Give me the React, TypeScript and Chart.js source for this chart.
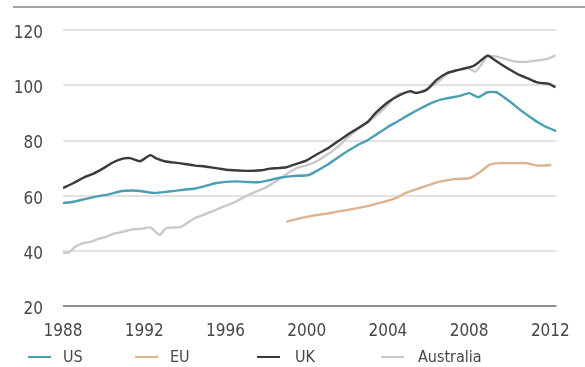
import React, { useEffect, useRef } from "react";
import { Chart, registerables } from "chart.js";

Chart.register(...registerables);

const FONT = '"Liberation Sans Narrow", "DejaVu Sans Condensed", "Arial Narrow", sans-serif';
const TEXT_COLOR = "#474747";

// Axis ticks
const yearTicks = [1988, 1992, 1996, 2000, 2004, 2008, 2012];
const valueTicks = [20, 40, 60, 80, 100, 120];

// Series: sample times (decimal years) and index values
const usYears = [
  1988.0, 1988.5, 1989.0, 1989.5, 1990.2, 1990.9, 1991.4, 1991.8, 1992.5, 1993.2,
  1993.8, 1994.5, 1995.0, 1995.5, 1996.0, 1996.5, 1997.0, 1997.7, 1998.2, 1998.6,
  1999.3, 2000.1, 2000.5, 2001.0, 2001.7, 2002.5, 2003.0, 2003.5, 2004.0, 2004.5,
  2005.0, 2005.6, 2006.25, 2006.7, 2007.2, 2007.6, 2008.0, 2008.45, 2008.9, 2009.35,
  2009.7, 2010.1, 2010.5, 2011.0, 2011.4, 2011.8, 2012.3,
];
const usValues = [
  57.3, 57.8, 58.6, 59.5, 60.4, 61.7, 61.9, 61.7, 61.0, 61.5,
  62.0, 62.6, 63.5, 64.5, 65.0, 65.2, 65.0, 64.9, 65.7, 66.4,
  67.1, 67.5, 69.0, 71.1, 74.7, 78.3, 80.1, 82.5, 84.9, 87.0,
  89.2, 91.6, 93.9, 95.0, 95.7, 96.3, 97.2, 95.7, 97.5, 97.5,
  95.8, 93.6, 91.2, 88.5, 86.5, 84.9, 83.4,
];

const euYears = [
  1999.0, 1999.5, 2000.0, 2000.5, 2001.0, 2001.5, 2002.0, 2002.5, 2003.0, 2003.5,
  2004.1, 2004.5, 2004.85, 2005.5, 2006.0, 2006.5, 2007.25, 2008.05, 2008.55, 2009.0,
  2009.5, 2010.0, 2010.8, 2011.4, 2012.05,
];
const euValues = [
  50.5, 51.5, 52.3, 53.0, 53.5, 54.2, 54.8, 55.5, 56.2, 57.2,
  58.4, 59.5, 60.9, 62.6, 63.8, 65.0, 66.0, 66.4, 68.6, 71.2,
  71.8, 71.8, 71.8, 70.9, 71.1,
];

const ukYears = [
  1988.0, 1988.5, 1989.0, 1989.5, 1990.0, 1990.5, 1991.0, 1991.3, 1991.8, 1992.3,
  1992.6, 1993.0, 1993.7, 1994.5, 1995.0, 1995.7, 1996.2, 1997.0, 1997.75, 1998.2,
  1998.6, 1999.0, 1999.5, 2000.0, 2000.6, 2001.0, 2001.4, 2002.2, 2003.0, 2003.4,
  2004.0, 2004.6, 2005.1, 2005.4, 2005.9, 2006.4, 2006.9, 2007.4, 2007.8, 2008.2,
  2008.45, 2008.9, 2009.2, 2009.65, 2010.1, 2010.5, 2010.9, 2011.3, 2011.6, 2011.9,
  2012.25,
];
const ukValues = [
  62.8, 64.5, 66.5, 68.0, 70.0, 72.2, 73.5, 73.6, 72.5, 74.7,
  73.5, 72.5, 71.8, 70.9, 70.6, 69.8, 69.3, 69.0, 69.2, 69.8,
  70.0, 70.3, 71.5, 72.8, 75.4, 77.0, 79.0, 83.0, 86.7, 90.0,
  93.9, 96.5, 97.9, 97.2, 98.3, 102.0, 104.4, 105.5, 106.2, 107.0,
  108.2, 110.8, 109.5, 107.3, 105.3, 103.7, 102.5, 101.2, 100.8, 100.6,
  99.3,
];

const auYears = [
  1988.0, 1988.3, 1988.6, 1989.0, 1989.4, 1989.8, 1990.1, 1990.5, 1991.0, 1991.4,
  1991.9, 1992.3, 1992.75, 1993.1, 1993.8, 1994.2, 1994.5, 1995.0, 1995.5, 1996.0,
  1996.5, 1997.0, 1997.5, 1998.0, 1998.5, 1999.0, 1999.5, 2000.0, 2000.5, 2001.0,
  2001.5, 2002.0, 2002.5, 2003.0, 2003.5, 2004.0, 2004.5, 2005.0, 2005.5, 2006.0,
  2006.5, 2007.0, 2007.5, 2008.0, 2008.3, 2008.6, 2008.9, 2009.3, 2009.8, 2010.3,
  2010.8, 2011.3, 2011.8, 2012.25,
];
const auValues = [
  39.2, 39.5, 41.5, 42.8, 43.3, 44.5, 45.0, 46.2, 47.0, 47.8,
  48.0, 48.5, 45.8, 48.3, 48.6, 50.5, 51.9, 53.3, 54.8, 56.3,
  57.8, 59.8, 61.5, 63.0, 65.3, 67.8, 70.0, 71.0, 72.5, 74.8,
  77.5, 81.0, 84.0, 86.5, 89.5, 93.0, 96.8, 97.5, 97.5, 99.0,
  101.5, 104.5, 105.5, 106.0, 105.0, 107.5, 110.5, 110.5, 109.5, 108.6,
  108.5, 109.0, 109.5, 110.9,
];

const seriesNames = ["US", "EU", "UK", "Australia"];
const seriesColors = ["#4c9fb3", "#dcb48f", "#3b3939", "#c9c9c9"];

const toPoints = (xs: number[], ys: number[]) => xs.map((x, i) => ({ x, y: ys[i] }));

const legendSlots = [
  { line: 28, text: 63 },
  { line: 135, text: 170 },
  { line: 257, text: 295 },
  { line: 381, text: 418 },
];

export default function App() {
  const canvasRef = useRef<HTMLCanvasElement | null>(null);

  useEffect(() => {
    const canvas = canvasRef.current;
    if (!canvas) return;

    const chart = new Chart(canvas, {
      type: "line",
      data: {
        datasets: [
          { label: seriesNames[0], data: toPoints(usYears, usValues), borderColor: seriesColors[0], order: 1 },
          { label: seriesNames[1], data: toPoints(euYears, euValues), borderColor: seriesColors[1], order: 2 },
          { label: seriesNames[2], data: toPoints(ukYears, ukValues), borderColor: seriesColors[2], order: 0 },
          { label: seriesNames[3], data: toPoints(auYears, auValues), borderColor: seriesColors[3], order: 3 },
        ].map((d) => ({
          ...d,
          borderWidth: 2.4,
          pointRadius: 0,
          tension: 0.2,
          fill: false,
        })),
      },
      options: {
        animation: false,
        responsive: false,
        maintainAspectRatio: false,
        layout: { padding: { top: 30, right: 17, left: 0, bottom: 0 } },
        plugins: {
          legend: { display: false },
          tooltip: { enabled: false },
        },
        scales: {
          x: {
            type: "linear",
            min: 1988,
            max: 2012.3,
            afterBuildTicks: (s: any) => {
              s.ticks = yearTicks.map((v) => ({ value: v }));
            },
            afterFit: (s: any) => {
              s.height = 61;
            },
            grid: { display: false, drawTicks: false },
            border: { display: false },
            ticks: {
              color: TEXT_COLOR,
              font: { family: FONT, size: 17 },
              padding: 15,
              maxRotation: 0,
              autoSkip: false,
              callback: (v: any) => String(v),
            },
          },
          y: {
            min: 20,
            max: 120,
            afterBuildTicks: (s: any) => {
              s.ticks = valueTicks.map((v) => ({ value: v }));
            },
            afterFit: (s: any) => {
              s.width = 63;
            },
            grid: {
              drawTicks: false,
              lineWidth: 2,
              color: (c: any) => (c.tick && c.tick.value === 20 ? "#8e8e8e" : "#e2e2e2"),
            },
            border: { display: false },
            ticks: {
              color: TEXT_COLOR,
              font: { family: FONT, size: 17 },
              padding: 20,
              labelOffset: 3.5,
              callback: (v: any) => String(v),
            },
          },
        },
      },
    });

    return () => chart.destroy();
  }, []);

  return (
    <div
      style={{
        position: "absolute",
        left: 0,
        top: 0,
        width: 585,
        height: 367,
        background: "#ffffff",
        overflow: "hidden",
      }}
    >
      <div
        style={{
          position: "absolute",
          left: 13,
          top: 6,
          width: 572,
          height: 2,
          background: "#a4a4a4",
        }}
      />
      <canvas ref={canvasRef} width={585} height={367} style={{ position: "absolute", left: 0, top: 0 }} />
      {seriesNames.map((name, i) => (
        <React.Fragment key={name}>
          <div
            style={{
              position: "absolute",
              left: legendSlots[i].line,
              top: 356,
              width: 23,
              height: 2.4,
              background: seriesColors[i],
            }}
          />
          <div
            style={{
              position: "absolute",
              left: legendSlots[i].text,
              top: 346,
              height: 22,
              lineHeight: "22px",
              fontFamily: FONT,
              fontSize: 16,
              color: TEXT_COLOR,
              whiteSpace: "nowrap",
            }}
          >
            {name}
          </div>
        </React.Fragment>
      ))}
    </div>
  );
}
